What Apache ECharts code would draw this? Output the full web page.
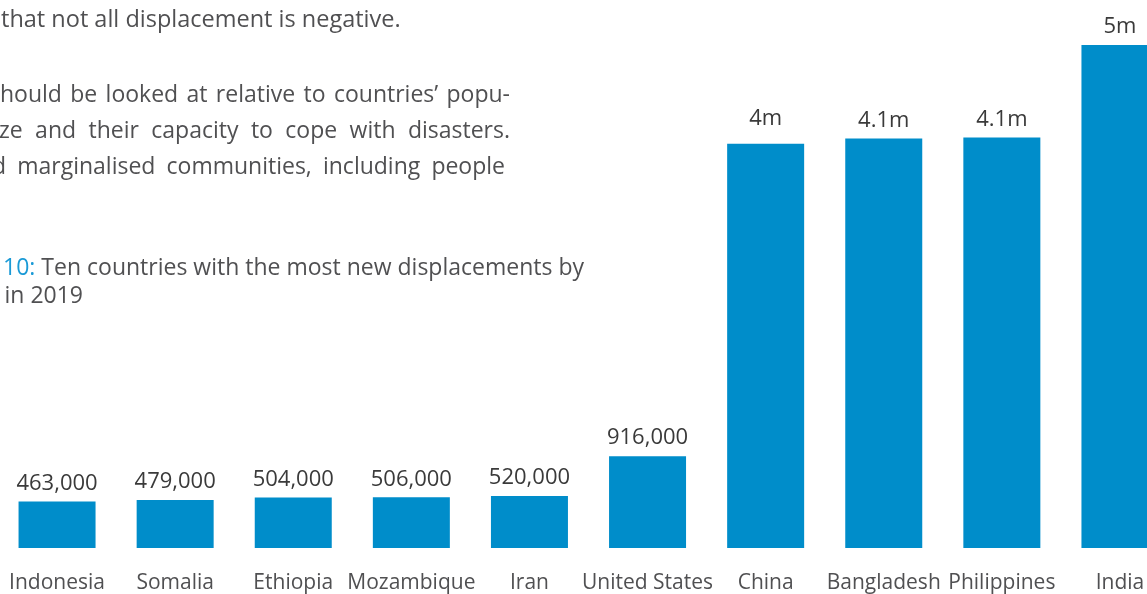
<!DOCTYPE html>
<html>
<head>
<meta charset="utf-8">
<style>
html,body{margin:0;padding:0;background:#fff;}
#chart{width:1147px;height:594px;}
</style>
<script src="https://cdn.jsdelivr.net/npm/echarts@6/dist/echarts.min.js"></script>
</head>
<body>
<div id="chart"></div>
<script>
const countries = ['Indonesia','Somalia','Ethiopia','Mozambique','Iran','United States','China','Bangladesh','Philippines','India'];
const displacements = [463000, 479000, 504000, 506000, 520000, 916000, 4034000, 4086000, 4094000, 5018000];
const valueLabels = ['463,000','479,000','504,000','506,000','520,000','916,000','4m','4.1m','4.1m','5m'];

const paraLine1 = 'that not all displacement is negative.';
const paraLines = [
  'hould be looked at relative to countries\u2019 popu-',
  'ze and their capacity to cope with disasters.',
  'd marginalised communities, including people'
];
const captionNum = 'Figure 10:';
const captionLine1 = 'Ten countries with the most new displacements by';
const captionLine2 = 'disasters in 2019';

const BLUE = '#008dca';
const TEXT = '#505052';
const FONT = '"Open Sans", "Noto Sans", sans-serif';

const chart = echarts.init(document.getElementById('chart'), null, {renderer:'canvas'});

// measure helper for justified paragraph lines
const ctx = document.createElement('canvas').getContext('2d');
function justify(text, x0, x1, y, size){
  ctx.font = size + 'px "Open Sans"';
  const words = text.split(' ');
  const widths = words.map(w => ctx.measureText(w).width);
  const total = widths.reduce((a,b)=>a+b,0);
  const gap = (x1 - x0 - total) / (words.length - 1);
  const out = [];
  let x = x0;
  words.forEach((w,i)=>{
    out.push({type:'text', x:x, y:y, style:{text:w, fill:TEXT, font: size+'px '+FONT, textVerticalAlign:'middle'}, silent:true});
    x += widths[i] + gap;
  });
  return out;
}

const PF = 23;
const graphics = [
  {type:'text', x:1, y:20, style:{text:paraLine1, fill:TEXT, font:'23.5px '+FONT, textVerticalAlign:'middle'}, silent:true}
];
graphics.push(...justify(paraLines[0], 0, 510, 95, PF));
graphics.push(...justify(paraLines[1], -1, 510, 131, PF));
graphics.push(...justify(paraLines[2], -8, 505, 167, PF));
graphics.push({type:'text', x:584, y:268, style:{
  text:'{b|' + captionNum + '} ' + captionLine1,
  rich:{b:{fill:'#1a9ad6', font:PF+'px '+FONT}},
  fill:TEXT, font:PF+'px '+FONT, textAlign:'right', textVerticalAlign:'middle'}, silent:true});
graphics.push({type:'text', x:83, y:296, style:{text:captionLine2, fill:TEXT, font:PF+'px '+FONT, textAlign:'right', textVerticalAlign:'middle'}, silent:true});

const option = {
  animation:false,
  backgroundColor:'#fff',
  grid:{left:-2, width:1181, top:45, bottom:46, containLabel:false, outerBoundsMode:'none'},
  xAxis:{
    type:'category', data:countries,
    axisLine:{show:false}, axisTick:{show:false},
    axisLabel:{color:TEXT, fontSize:21, fontFamily:FONT, margin:25, interval:0}
  },
  yAxis:{type:'value', min:0, max:'dataMax', show:false, splitLine:{show:false}},
  series:[{
    type:'bar',
    data:displacements.map((v,i)=>({value:v, label:{formatter:valueLabels[i], distance: i===6 ? 14 : 7}})),
    barWidth:77,
    itemStyle:{color:BLUE},
    label:{show:true, position:'top', color:'#3a3a3a', fontSize:22, fontFamily:FONT}
  }],
  graphic:graphics
};
chart.setOption(option);
</script>
</body>
</html>
